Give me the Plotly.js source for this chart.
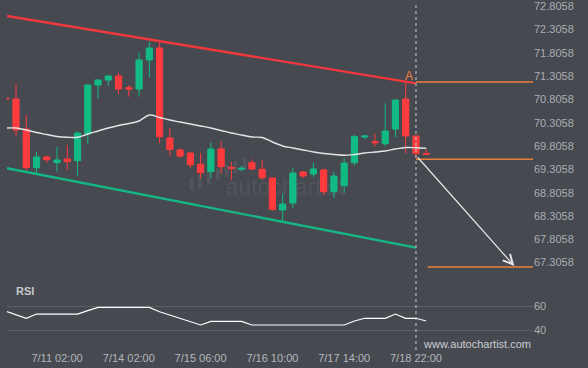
<!DOCTYPE html>
<html>
<head>
<meta charset="utf-8">
<script src="https://cdn.plot.ly/plotly-3.0.1.min.js"></script>
<style>html,body{margin:0;padding:0;background:#46494f;}#chart{width:588px;height:368px;}</style>
</head>
<body>
<div id="chart"></div>
<script>
// ---- data ----
const candleIdx = [0,1,2,3,4,5,6,7,8,9,10,11,12,13,14,15,16,17,18,19,20,21,22,23,24,25,26,27,28,29,30,31,32,33,34,35,36,37,38,39,40,41];
const openP  = [70.795,70.774,70.130,69.299,69.529,69.407,69.486,69.450,70.029,71.074,71.181,71.267,71.016,70.988,71.611,71.868,69.937,69.679,69.615,69.372,69.214,69.701,69.308,69.265,69.407,69.265,69.078,68.392,68.542,69.207,69.164,69.250,68.784,68.913,69.407,69.958,69.857,69.814,70.130,70.774,69.980,69.604];
const highP  = [70.817,71.096,70.430,69.643,69.557,69.744,69.787,70.072,71.096,71.203,71.289,71.332,71.074,71.767,72.003,71.982,70.151,69.711,69.630,69.615,69.836,69.872,69.428,69.342,69.480,69.465,69.085,68.750,69.293,69.229,69.400,69.280,69.214,69.508,70.001,69.980,70.029,70.681,70.752,71.123,69.980,69.690];
const lowP   = [70.752,69.965,69.250,69.186,69.407,69.214,69.250,69.128,69.808,70.774,71.059,70.881,70.823,70.823,71.239,69.823,69.550,69.514,69.299,69.072,69.072,69.164,69.036,69.214,69.250,69.036,68.377,68.141,68.435,69.078,69.100,68.714,68.649,68.757,69.342,69.909,69.754,69.765,69.952,69.608,69.523,69.587];
const closeP = [70.774,70.108,69.299,69.529,69.471,69.465,69.428,70.044,71.074,71.181,71.267,70.988,70.988,71.611,71.868,69.965,69.690,69.550,69.364,69.192,69.701,69.321,69.287,69.287,69.272,69.085,68.402,68.520,69.186,69.121,69.272,68.784,69.121,69.400,69.965,69.980,69.836,70.087,70.752,69.980,69.604,69.587];
const maValues = [70.151,70.151,70.108,70.055,70.012,69.969,69.952,69.952,70.023,70.087,70.151,70.205,70.248,70.302,70.430,70.377,70.323,70.280,70.237,70.194,70.151,70.098,70.044,70.001,69.958,69.947,69.851,69.765,69.722,69.679,69.636,69.604,69.583,69.566,69.583,69.615,69.636,69.658,69.701,69.733,69.729,69.716];
const rsiValues = [55.8,52.8,49.9,53.4,53.4,53.4,53.4,53.4,56.2,58.9,58.9,58.9,58.9,58.9,58.9,55.3,52.6,49.9,47.0,44.4,47.4,47.4,47.4,47.4,44.4,44.4,44.4,44.4,44.4,44.4,44.4,44.4,44.4,44.4,47.7,49.9,49.9,49.9,53.4,49.9,49.9,47.7];

const resistX = [0.122, 40];
const resistY = [72.555, 71.110];
const supportX = [0.122, 40];
const supportY = [69.287, 67.583];

const breakoutIdx = 40;
const upperLevel = 71.138;   // "A" level
const lowerLevel = 69.480;
const targetLevel = 67.169;
const targetIdx = 49.59;
const arrowStart = 69.550;

const xTickVals = [5, 12, 19, 26, 33, 40];
const xTickText = ['7/11 02:00','7/14 02:00','7/15 06:00','7/16 10:00','7/17 14:00','7/18 22:00'];
const yTickVals = [72.8058,72.3058,71.8058,71.3058,70.8058,70.3058,69.8058,69.3058,68.8058,68.3058,67.8058,67.3058];
const yTickText = yTickVals.map(v => v.toFixed(4));
const rsiTickVals = [40, 60];

// ---- chart ----
const RED = '#ff3b3e', GREEN = '#12bb84', ORANGE = '#ec7f3e';
const xRight = 51.41;

const traces = [
  {type:'scatter', mode:'lines', x:resistX, y:resistY, line:{color:'#f2383c', width:2.4}, hoverinfo:'skip'},
  {type:'scatter', mode:'lines', x:supportX, y:supportY, line:{color:'#15b784', width:2.4}, hoverinfo:'skip'},
  {type:'scatter', mode:'lines', x:candleIdx, y:maValues, line:{color:'#e4e4e4', width:1.4, shape:'spline'}, hoverinfo:'skip'},
  {type:'candlestick', x:candleIdx, open:openP, high:highP, low:lowP, close:closeP,
   increasing:{line:{color:GREEN, width:1}, fillcolor:GREEN},
   decreasing:{line:{color:RED, width:1}, fillcolor:RED},
   whiskerwidth:0, hoverinfo:'skip'},
  {type:'scatter', mode:'lines', x:[breakoutIdx, xRight], y:[upperLevel, upperLevel], line:{color:ORANGE, width:1.5}, hoverinfo:'skip'},
  {type:'scatter', mode:'lines', x:[breakoutIdx, xRight], y:[lowerLevel, lowerLevel], line:{color:ORANGE, width:1.5}, hoverinfo:'skip'},
  {type:'scatter', mode:'lines', x:[41.14, xRight], y:[targetLevel, targetLevel], line:{color:ORANGE, width:1.5}, hoverinfo:'skip'},
  {type:'scatter', mode:'lines', x:candleIdx, y:rsiValues, xaxis:'x', yaxis:'y2', line:{color:'#ffffff', width:1.2}, hoverinfo:'skip'}
];

const W = 526, H = 350, L = 7;
const px = p => (p - L) / W;
const py = p => 1 - p / H;

const logoBars = [[190,178,190],[198,175,188],[207,171,184],[216,168,180],[225,165,177],[234,161,173],[243,158,169]];
const shapes = [
  {type:'line', xref:'x', yref:'paper', x0:breakoutIdx, x1:breakoutIdx, y0:py(350), y1:py(4), line:{color:'#c9c9c9', width:1, dash:'3px,3px'}, layer:'above'},
  {type:'rect', xref:'paper', yref:'paper', x0:px(218), x1:px(352), y0:py(197), y1:py(173), line:{width:0}, fillcolor:'rgba(0,0,0,0)', layer:'below',
   label:{text:'autochartist', font:{size:23, color:'rgba(255,255,255,0.08)', family:'Liberation Sans, Arial, sans-serif'}, textposition:'middle center'}}
];
logoBars.forEach(b => shapes.push({type:'rect', xref:'paper', yref:'paper', x0:px(b[0]), x1:px(b[0]+3.5), y0:py(b[2]), y1:py(b[1]), line:{width:0}, fillcolor:'rgba(255,255,255,0.07)', layer:'below'}));

const layout = {
  width:588, height:368,
  paper_bgcolor:'#46494f', plot_bgcolor:'#46494f',
  margin:{l:7, r:55, t:0, b:18},
  showlegend:false,
  boxgap:0.14,
  font:{family:'Liberation Sans, Arial, sans-serif', size:11, color:'#aeb2b7'},
  xaxis:{range:[0.122, xRight], anchor:'y2', tickvals:xTickVals, ticktext:xTickText, showgrid:false, zeroline:false, showline:false, ticks:'', rangeslider:{visible:false}, tickfont:{size:11, color:'#b4b7bc'}, fixedrange:true},
  yaxis:{domain:[0.2143, 1], range:[66.997, 72.898], side:'right', tickvals:yTickVals, ticktext:yTickText, showgrid:false, zeroline:false, showline:false, ticks:'', ticklabeloverflow:'allow', ticklabelshift:2, tickfont:{size:11, color:'#a9adb2'}},
  yaxis2:{domain:[0, 0.2], range:[23.85, 81.36], side:'right', tickvals:rsiTickVals, showgrid:true, gridcolor:'#5d6167', gridwidth:1, zeroline:false, showline:false, ticks:'', tickfont:{size:11, color:'#a9adb2'}},
  shapes:shapes,
  annotations:[
    {x:targetIdx, y:targetLevel + 0.02, ax:breakoutIdx + 0.05, ay:arrowStart, xref:'x', yref:'y', axref:'x', ayref:'y', showarrow:true, arrowhead:5, arrowsize:1.6, arrowwidth:1.2, arrowcolor:'#e8e8e8', text:'', standoff:0, startstandoff:0},
    {x:39.35, y:71.262, xref:'x', yref:'y', text:'A', showarrow:false, font:{size:12, color:ORANGE}},
    {x:px(14), y:py(291), xref:'paper', yref:'paper', xanchor:'left', yanchor:'middle', text:'<b>RSI</b>', showarrow:false, font:{size:11, color:'#c4c7cb'}},
    {x:px(477), y:py(344.3), xref:'paper', yref:'paper', xanchor:'center', yanchor:'middle', text:'www.autochartist.com', showarrow:false, font:{size:11, color:'#cacdd1'}}
  ]
};

Plotly.newPlot('chart', traces, layout, {displayModeBar:false, staticPlot:true});
</script>
</body>
</html>
